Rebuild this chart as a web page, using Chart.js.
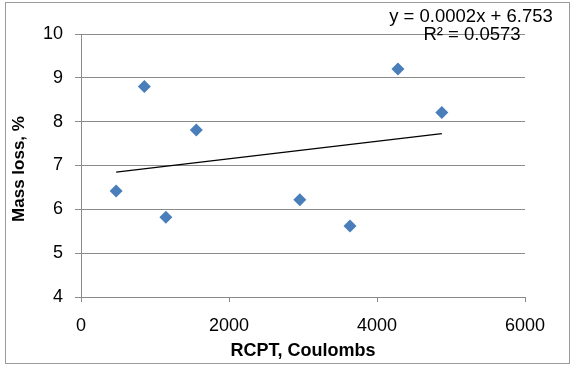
<!DOCTYPE html>
<html>
<head>
<meta charset="utf-8">
<script src="https://cdn.jsdelivr.net/npm/chart.js@4"></script>
<style>
  html, body { margin: 0; padding: 0; background: #fff; }
  canvas { display: block; }
</style>
</head>
<body>
<canvas id="chart" width="574" height="368"></canvas>
<script>
// data
const rcpt = [475, 856, 1147, 1558, 2957, 3635, 4283, 4876];
const massLoss = [6.42, 8.80, 5.82, 7.81, 6.22, 5.62, 9.20, 8.21];

// linear trendline as printed on the chart
const trendSlope = 0.0002;
const trendIntercept = 6.753;
const trendLabel = ['y = 0.0002x + 6.753', 'R\u00b2 = 0.0573'];

const xTitle = 'RCPT, Coulombs';
const yTitle = 'Mass loss, %';

const FONT = "'Liberation Sans', Arial, sans-serif";
const GRID = '#8a8a8a';

const points = rcpt.map((x, i) => ({ x: x, y: massLoss[i] }));
const xMin = Math.min(...rcpt);
const xMax = Math.max(...rcpt);
const trend = [xMin, xMax].map(x => ({ x: x, y: trendSlope * x + trendIntercept }));

// frame, axis titles and the equation box, drawn like Excel does
const decorations = {
  id: 'decorations',
  afterDraw(chart) {
    const ctx = chart.ctx;
    const area = chart.chartArea;
    ctx.save();

    ctx.strokeStyle = '#9a9a9a';
    ctx.lineWidth = 1;
    ctx.strokeRect(5.5, 2.5, 564, 361);

    ctx.fillStyle = '#000';
    ctx.textAlign = 'center';
    ctx.textBaseline = 'middle';

    ctx.font = 'bold 18px ' + FONT;
    ctx.fillText(xTitle, (area.left + area.right) / 2, 351);

    ctx.save();
    ctx.translate(19, 169);
    ctx.rotate(-Math.PI / 2);
    ctx.font = 'bold 17px ' + FONT;
    ctx.fillText(yTitle, 0, 0);
    ctx.restore();

    ctx.font = '18.5px ' + FONT;
    ctx.fillText(trendLabel[0], 471, 17);
    ctx.fillText(trendLabel[1], 472, 35);

    ctx.restore();
  }
};

new Chart(document.getElementById('chart'), {
  type: 'scatter',
  data: {
    datasets: [
      {
        label: 'Mass loss',
        data: points,
        pointStyle: 'rectRot',
        pointRadius: 6.5,
        pointHoverRadius: 6.5,
        backgroundColor: '#4a7ebb',
        borderColor: '#4a7ebb',
        borderWidth: 0
      },
      {
        type: 'line',
        label: 'Linear',
        data: trend,
        borderColor: '#000',
        borderWidth: 1.3,
        pointRadius: 0,
        fill: false
      }
    ]
  },
  plugins: [decorations],
  options: {
    responsive: false,
    animation: false,
    devicePixelRatio: 1,
    layout: { padding: { left: 0, top: 34, right: 49, bottom: 0 } },
    plugins: {
      legend: { display: false },
      tooltip: { enabled: false }
    },
    scales: {
      x: {
        type: 'linear',
        min: 0,
        max: 6000,
        afterFit(scale) { scale.height = 71; },
        ticks: {
          stepSize: 2000,
          color: '#000',
          padding: 13,
          font: { family: FONT, size: 18 },
          callback: v => String(v)
        },
        grid: {
          drawOnChartArea: false,
          drawTicks: true,
          tickLength: 5,
          color: GRID
        },
        border: { color: GRID }
      },
      y: {
        min: 4,
        max: 10,
        afterFit(scale) { scale.width = 81; },
        ticks: {
          stepSize: 1,
          color: '#000',
          padding: 12,
          font: { family: FONT, size: 18 },
          callback: v => String(v)
        },
        grid: {
          tickLength: 6,
          color: GRID
        },
        border: { color: GRID }
      }
    }
  }
});
</script>
</body>
</html>
